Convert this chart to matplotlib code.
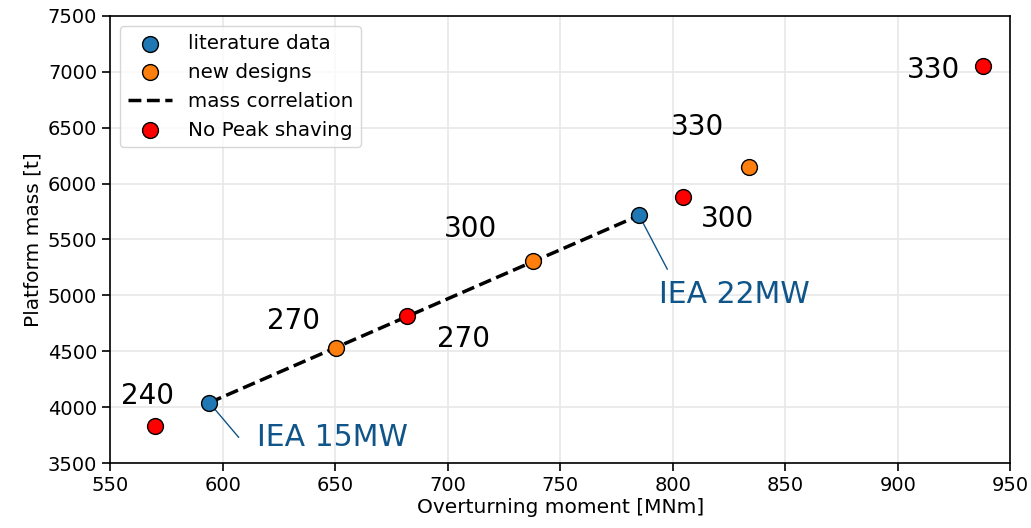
import numpy as np
import matplotlib
matplotlib.use('Agg')
import matplotlib.pyplot as plt

# literature designs (IEA reference platforms)
lit_moment = [594, 785]
lit_mass = [4040, 5715]
lit_names = ['IEA 15MW', 'IEA 22MW']

# new designs with peak shaving
new_moment = [650.5, 738, 834]
new_mass = [4530, 5305, 6145]
new_rating = ['270', '300', '330']

# no peak shaving
nps_moment = [570, 682, 804.5, 938]
nps_mass = [3830, 4812, 5882, 7050]
nps_rating = ['240', '270', '300', '330']

# label positions (text centres)
new_label_pos = [(631.5, 4768), (710, 5595), (811, 6503)]
nps_label_pos = [(566.5, 4100), (707, 4606), (824.5, 5685), (916, 7016)]
lit_line_end = [(607, 3731), (797.5, 5235)]
lit_text_pos = [(615, 3725), (794, 5011)]

iea_color = '#10558a'

fig = plt.figure(figsize=(10.31, 5.28), dpi=100)
ax = fig.add_axes([0.107, 0.123, 0.873, 0.847])

ax.grid(True, color='#e8e8e8', lw=1.2, zorder=0)

ax.plot(lit_moment, lit_mass, '--', color='black', lw=2.5, zorder=2,
        label='mass correlation')
ax.scatter(lit_moment, lit_mass, s=130, c='#1f77b4', edgecolors='black',
           zorder=3, label='literature data')
ax.scatter(new_moment, new_mass, s=130, c='#ff7f0e', edgecolors='black',
           zorder=3, label='new designs')
ax.scatter(nps_moment, nps_mass, s=130, c='red', edgecolors='black',
           zorder=3, label='No Peak shaving')

for (x, y), t in zip(new_label_pos, new_rating):
    ax.text(x, y, t, fontsize=20, ha='center', va='center')
for (x, y), t in zip(nps_label_pos, nps_rating):
    ax.text(x, y, t, fontsize=20, ha='center', va='center')

for i in range(len(lit_names)):
    ex, ey = lit_line_end[i]
    ax.plot([lit_moment[i], ex], [lit_mass[i], ey], color=iea_color, lw=1, zorder=2)
    tx, ty = lit_text_pos[i]
    ax.text(tx, ty, lit_names[i], fontsize=21.5, color=iea_color,
            ha='left', va='center')

ax.set_xlim(550, 950)
ax.set_ylim(3500, 7500)
ax.set_xticks(np.arange(550, 951, 50))
ax.set_yticks(np.arange(3500, 7501, 500))
ax.tick_params(labelsize=14, width=1.2, length=6)
for s in ax.spines.values():
    s.set_linewidth(1.2)
ax.set_xlabel('Overturning moment [MNm]', fontsize=14.5, labelpad=2)
ax.set_ylabel('Platform mass [t]', fontsize=14.5)

h, l = ax.get_legend_handles_labels()
order = [1, 2, 0, 3]
ax.legend([h[i] for i in order], [l[i] for i in order], loc='upper left',
          fontsize=14.3, handlelength=2.2)

fig.savefig('out.png', dpi=100)
